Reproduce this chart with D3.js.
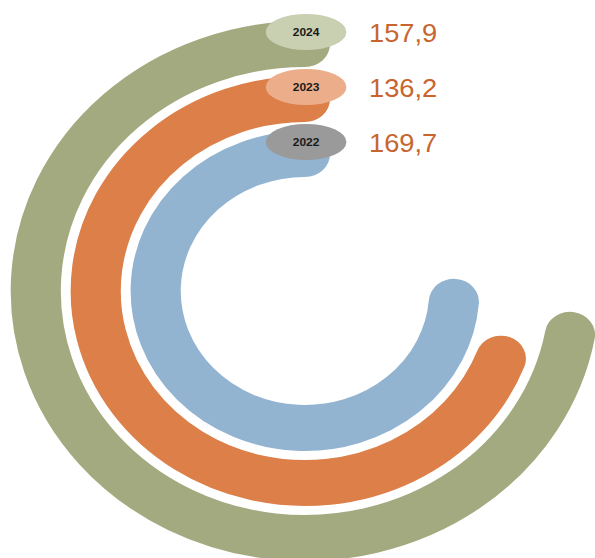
<!DOCTYPE html>
<html>
<head>
<meta charset="utf-8">
<script src="https://cdn.jsdelivr.net/npm/d3@7"></script>
<style>
  body { margin: 0; background: #fff; }
  svg { display: block; }
</style>
</head>
<body>
<div id="chart"></div>
<script>
var width = 595,
    height = 558;

// data
var years = ['2022', '2023', '2024'];
var values = [169.7, 136.2, 157.9];
var valueLabels = ['169,7', '136,2', '157,9'];
var barColors = ['#93b4d1', '#dc7f48', '#a3aa7f'];
var badgeColors = ['#9a9a9a', '#ecae8a', '#c9cfb1'];

var cx = 305, cy = 291, sx = 1.09;

// radius per year (inner = 2022)
var radius = d3.scaleBand()
    .domain(years)
    .range([114, 270])
    .paddingInner(9 / 55);
var bw = radius.bandwidth();

// sweep angle (degrees, counter-clockwise from 12 o'clock)
var sweep = d3.scaleLinear()
    .domain([0, 200])
    .range([184, 280]);

var svg = d3.select('#chart').append('svg')
    .attr('width', width)
    .attr('height', height);

var g = svg.append('g')
    .attr('transform', 'translate(' + cx + ',' + cy + ') scale(' + sx + ',1)');

function arcPath(d, i) {
  var r = radius(years[i]) + bw / 2;
  var a = sweep(d) * Math.PI / 180;
  var p = d3.path();
  p.moveTo(0, -r);
  p.arc(0, 0, r, -Math.PI / 2, -Math.PI / 2 - a, true);
  return p.toString();
}

g.selectAll('.bar')
  .data(values)
  .enter().append('path')
    .attr('class', 'bar')
    .attr('d', arcPath)
    .attr('fill', 'none')
    .attr('stroke', function(d, i) { return barColors[i]; })
    .attr('stroke-width', bw)
    .attr('stroke-linecap', 'round');

// year badges + values
var lab = g.selectAll('.lab')
  .data(years)
  .enter().append('g')
    .attr('class', 'lab')
    .attr('transform', function(d) {
      var r = radius(d) + bw / 2;
      return 'translate(1,' + (-r - 12) + ')';
    });

lab.append('ellipse')
    .attr('rx', 37)
    .attr('ry', 18)
    .attr('fill', function(d, i) { return badgeColors[i]; });

lab.append('text')
    .attr('text-anchor', 'middle')
    .attr('y', 4)
    .attr('font-family', 'Liberation Sans, Arial, sans-serif')
    .attr('font-size', 11)
    .attr('font-weight', 'bold')
    .attr('fill', '#1a1a1a')
    .text(function(d) { return d; });

lab.append('text')
    .attr('x', (368 - cx) / sx)
    .attr('y', 10)
    .attr('font-family', 'Liberation Sans, Arial, sans-serif')
    .attr('font-size', 25)
    .attr('fill', '#c8652e')
    .text(function(d, i) { return valueLabels[i]; });
</script>
</body>
</html>
